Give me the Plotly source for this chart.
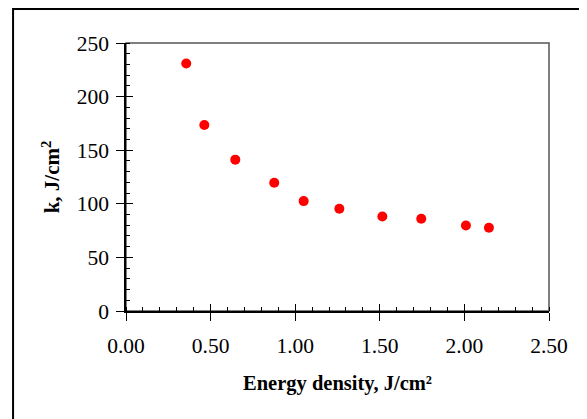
import plotly.graph_objects as go

energy_density = [0.356, 0.463, 0.646, 0.876, 1.050, 1.261, 1.515, 1.745, 2.009, 2.145]
k_values = [230.8, 173.5, 141.2, 119.7, 102.5, 95.4, 88.2, 86.1, 79.8, 77.7]

x_ticks = [0.0, 0.5, 1.0, 1.5, 2.0, 2.5]
x_tick_labels = ["0.00", "0.50", "1.00", "1.50", "2.00", "2.50"]
y_ticks = [0, 50, 100, 150, 200, 250]

FONT = "Liberation Serif, Times New Roman, serif"

fig = go.Figure()
fig.add_trace(go.Scatter(
    x=energy_density, y=k_values, mode="markers",
    marker=dict(color="#ff0000", size=10, line=dict(width=0)),
    showlegend=False, hoverinfo="x+y",
))
# invisible trace to activate overlay axes (for crossing major ticks)
fig.add_trace(go.Scatter(x=[None], y=[None], xaxis="x2", yaxis="y2",
                         mode="markers", showlegend=False, hoverinfo="skip"))

common_tickfont = dict(family=FONT, size=21.5, color="black")

fig.update_layout(
    width=579, height=411,
    margin=dict(l=118, r=38, t=35, b=108, pad=0),
    paper_bgcolor="white", plot_bgcolor="white",
    font=dict(family=FONT, color="black"),
    xaxis=dict(
        range=[0, 2.5], tickvals=x_ticks, ticktext=x_tick_labels,
        ticks="outside", ticklen=8, tickwidth=1.2, tickcolor="black",
        minor=dict(dtick=0.1, ticks="inside", ticklen=4, tickwidth=1, tickcolor="black"),
        showgrid=False, zeroline=False, showline=True, linecolor="black", linewidth=1.5,
        tickfont=common_tickfont, ticklabelstandoff=6,
        title=dict(text="<b>Energy density, J/cm²</b>",
                   font=dict(family=FONT, size=20.5, color="black"), standoff=19),
    ),
    yaxis=dict(
        range=[0, 250], tickvals=y_ticks,
        ticks="outside", ticklen=8, tickwidth=1.2, tickcolor="black",
        minor=dict(dtick=10, ticks="inside", ticklen=4, tickwidth=1, tickcolor="black"),
        showgrid=False, zeroline=False, showline=True, linecolor="black", linewidth=1.5,
        tickfont=common_tickfont, ticklabelstandoff=3,
        title=dict(text="<b>k, J/cm<sup>2</sup></b>",
                   font=dict(family=FONT, size=21, color="black"), standoff=11),
    ),
    xaxis2=dict(
        overlaying="x", anchor="y", range=[0, 2.5], tickvals=x_ticks,
        ticks="inside", ticklen=7, tickwidth=1.2, tickcolor="black",
        showticklabels=False, showgrid=False, zeroline=False, showline=False,
    ),
    yaxis2=dict(
        overlaying="y", anchor="x", side="left", range=[0, 250], tickvals=y_ticks,
        ticks="inside", ticklen=7, tickwidth=1.2, tickcolor="black",
        showticklabels=False, showgrid=False, zeroline=False, showline=False,
    ),
    shapes=[
        # plot-area border (top/right)
        dict(type="rect", xref="paper", yref="paper", x0=0, x1=1, y0=0, y1=1,
             line=dict(color="#555555", width=1.5), layer="below"),
        # outer chart frame
        dict(type="rect", xref="paper", yref="paper", x0=-0.267, x1=1.3, y0=-0.6, y1=1.127,
             line=dict(color="black", width=2), layer="below"),
    ],
)

fig.write_html("out.html")
